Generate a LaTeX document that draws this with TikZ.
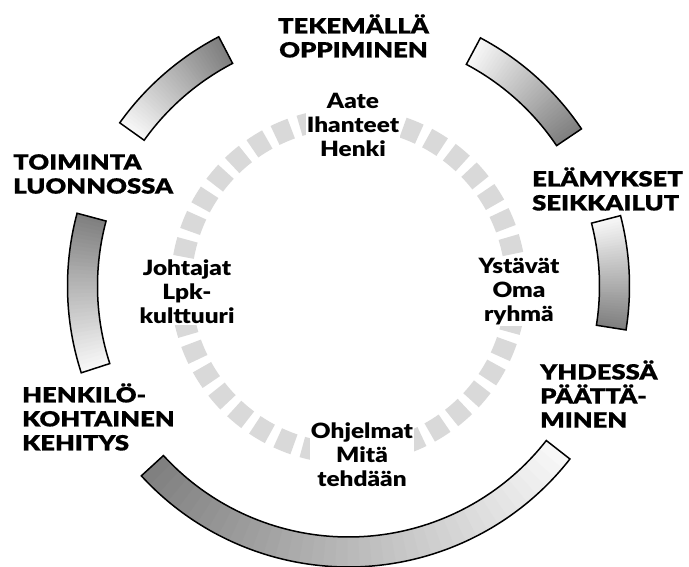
\documentclass[tikz,border=0pt]{standalone}
\usepackage{fontspec}
\setmainfont{Lato}[FakeStretch=1.2]
\newfontfamily\capsfont{Lato Black}[FakeStretch=1.22, FakeBold=0.5]
\newfontfamily\lowfont{Lato Black}[FakeStretch=1.16]
\usetikzlibrary{positioning}

\begin{document}
\begin{tikzpicture}[
		x=1pt, y=1pt,
		band/.style={draw=black, line width=1.5pt, line join=miter},
		ring/.style={draw=black!15, line width=21pt},
		caps/.style={font=\fontsize{21}{24}\selectfont\capsfont, inner sep=0pt, align=left},
		mid/.style={font=\fontsize{21}{24}\selectfont\lowfont, align=center, fill=white, inner sep=1pt}
	]
	\useasboundingbox (0,0) rectangle (689,567);
	\coordinate (C) at (348.5,281);

	% shaded bands, light to dark clockwise
	\begin{scope}[shift={(C)}]
		\foreach \a/\b in {144.5/117.5, 62/34, 14.5/-9, -38/-137.5, 198/165} {
			\foreach \i in {0,...,39} {
				\pgfmathsetmacro\s{\a+(\b-\a)*\i/40}
				\pgfmathsetmacro\g{3+47*\i/39}
				\fill[black!\g] (\s:251) -- (\s:281) arc[start angle=\s, end angle=\b, radius=281]
					-- (\b:251) arc[start angle=\b, end angle=\s, radius=251] -- cycle;
			}
			\draw[band] (\a:251) -- (\a:281) arc[start angle=\a, end angle=\b, radius=281]
				-- (\b:251) arc[start angle=\b, end angle=\a, radius=251] -- cycle;
		}
		% dashed inner ring
		\foreach \k in {0,...,39}
			\draw[ring] (\k*9+2:167.5) arc[start angle=\k*9+2, delta angle=6, radius=167.5];
	\end{scope}

	\node[caps, align=center] (tekemalla) at (353.5,531) {TEKEMÄLLÄ\\OPPIMINEN};
	\node[caps, anchor=west] (toiminta) at (13,393) {TOIMINTA\\LUONNOSSA};
	\node[caps, anchor=west] (elamykset) at (532,378) {ELÄMYKSET\\SEIKKAILUT};
	\node[caps, anchor=west] (yhdessa) at (540,173) {YHDESSÄ\\PÄÄTTÄ-\\MINEN};
	\node[caps, anchor=west] (henkilo) at (22,150) {HENKILÖ-\\KOHTAINEN\\KEHITYS};

	\node[mid] (aate) at (353,442) {Aate\\Ihanteet\\Henki};
	\node[mid] (johtajat) at (187,275) {Johtajat\\Lpk-\\kulttuuri};
	\node[mid] (ystavat) at (519,275) {Ystävät\\Oma\\ryhmä};
	\node[mid] (ohjelmat) at (362,112) {Ohjelmat\\Mitä\\tehdään};
\end{tikzpicture}
\end{document}
